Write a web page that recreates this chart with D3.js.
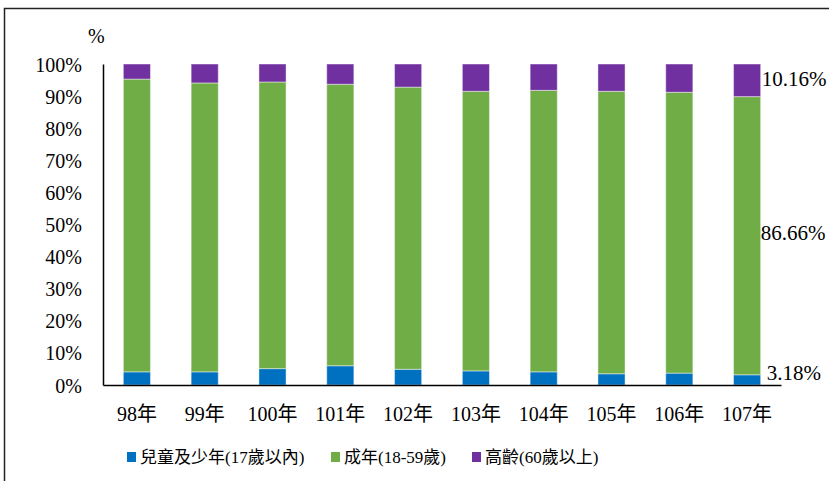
<!DOCTYPE html>
<html>
<head>
<meta charset="utf-8">
<script src="https://cdn.jsdelivr.net/npm/d3@7"></script>
<style>
  body { margin: 0; background: #fff; }
  text { font-family: "Liberation Serif", "Noto Sans CJK TC", serif; fill: #000; }
</style>
</head>
<body>
<div id="chart"></div>
<script>
// data (percent of total)
const years = ["98年", "99年", "100年", "101年", "102年", "103年", "104年", "105年", "106年", "107年"];
const children = [4.1, 4.1, 5.1, 6.0, 4.9, 4.4, 4.1, 3.5, 3.7, 3.18];
const adults = [91.2, 90.0, 89.3, 87.7, 87.9, 87.1, 87.7, 88.0, 87.5, 86.66];
const elderly = [4.7, 5.9, 5.6, 6.3, 7.2, 8.5, 8.2, 8.5, 8.8, 10.16];
const seriesNames = ["兒童及少年(17歲以內)", "成年(18-59歲)", "高齡(60歲以上)"];
const colors = ["#0070C0", "#70AD47", "#7030A0"];
const yTicks = [0, 10, 20, 30, 40, 50, 60, 70, 80, 90, 100];

const width = 829, height = 481;
const plot = {left: 103, right: 781, top: 64, bottom: 385};

const svg = d3.select("#chart").append("svg")
    .attr("width", width)
    .attr("height", height);

// outer frame (cut off at right and bottom)
svg.append("rect")
    .attr("x", 4.5).attr("y", 8.5)
    .attr("width", 1000).attr("height", 1000)
    .attr("fill", "none")
    .attr("stroke", "#222")
    .attr("stroke-width", 1.5);

const table = years.map((yr, i) => ({year: yr, c: children[i], a: adults[i], e: elderly[i]}));
const stack = d3.stack().keys(["c", "a", "e"])(table);

const x = d3.scaleBand().domain(years).range([plot.left, plot.right]).paddingInner(0.6).paddingOuter(0.3);
const y = d3.scaleLinear().domain([0, 100]).range([plot.bottom, plot.top]);

// bars
svg.append("g").selectAll("g")
    .data(stack)
    .join("g")
    .attr("fill", (d, i) => colors[i])
    .selectAll("rect")
    .data(d => d)
    .join("rect")
    .attr("x", d => x(d.data.year))
    .attr("y", d => y(d[1]))
    .attr("width", x.bandwidth())
    .attr("height", d => y(d[0]) - y(d[1]))
    .attr("stroke", "rgba(255,255,255,0.45)")
    .attr("stroke-width", 1);

// y axis
const yAxis = svg.append("g")
    .attr("transform", `translate(${plot.left},0)`)
    .call(d3.axisLeft(y).tickValues(yTicks).tickFormat(d => d + "%").tickSize(0).tickPadding(21));
yAxis.select(".domain").attr("stroke", "#000").attr("stroke-width", 1.5);
yAxis.selectAll("text").style("font-size", "20px").attr("dy", "0.35em");

// x axis
const xAxis = svg.append("g")
    .attr("transform", `translate(0,${plot.bottom})`)
    .call(d3.axisBottom(x).tickSize(0).tickPadding(22));
xAxis.select(".domain").attr("stroke", "#000").attr("stroke-width", 1.5);
xAxis.selectAll("text").style("font-size", "20px").attr("dy", "0.71em");

// unit label
svg.append("text")
    .attr("x", 88).attr("y", 43)
    .style("font-size", "20px")
    .text("%");

// value labels for last year
const last = years.length - 1;
const labelOffsets = [{dx: 6, dy: -7}, {dx: 0, dy: -3}, {dx: 1, dy: -2}];
stack.forEach((s, i) => {
    const d = s[last];
    svg.append("text")
        .attr("x", x(years[last]) + x.bandwidth() + labelOffsets[i].dx)
        .attr("y", (y(d[0]) + y(d[1])) / 2 + labelOffsets[i].dy)
        .attr("dy", "0.35em")
        .style("font-size", "21px")
        .text(d3.format(".2f")(d[1] - d[0]) + "%");
});

// legend
const legendX = [127, 331, 472];
const legend = svg.append("g").selectAll("g")
    .data(seriesNames)
    .join("g")
    .attr("transform", (d, i) => `translate(${legendX[i]},457)`);
legend.append("rect")
    .attr("x", 0).attr("y", -5)
    .attr("width", 9).attr("height", 10)
    .attr("fill", (d, i) => colors[i]);
legend.append("text")
    .attr("x", 13).attr("y", 0)
    .attr("dy", "0.35em")
    .style("font-size", "17px")
    .text(d => d);
</script>
</body>
</html>
